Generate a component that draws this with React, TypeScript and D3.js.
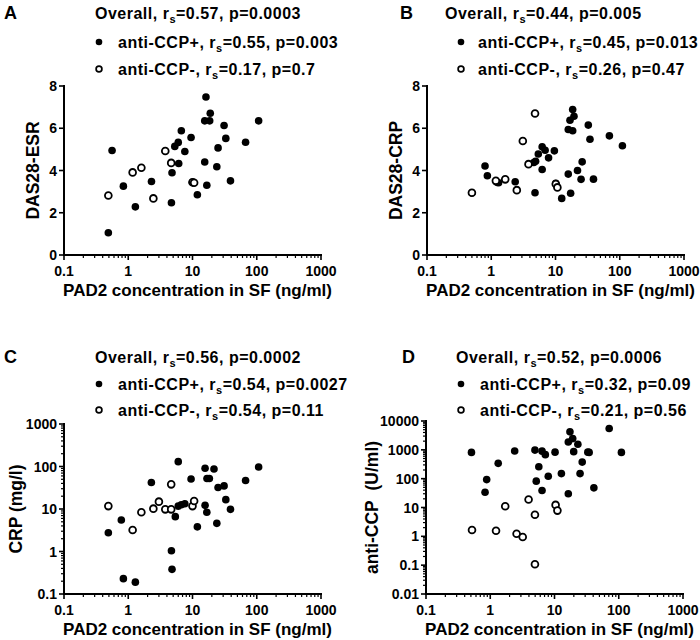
import React from 'react';
import * as d3 from 'd3';

const FONT = "'Liberation Sans', Arial, Helvetica, sans-serif";

// ---------- data ----------
const xTicks = [0.1, 1, 10, 100, 1000];
const dasTicks = [0, 2, 4, 6, 8];
const crpTicks = [0.1, 1, 10, 100, 1000];
const ccpTicks = [0.01, 0.1, 1, 10, 100, 1000, 10000];

// Panel A: PAD2 vs DAS28-ESR
const esrPos: [number, number][] = [
  [16.2, 7.48], [18.9, 6.71], [15.5, 6.35], [18.5, 6.35], [107, 6.35], [31, 6.13],
  [6.7, 5.88], [9.5, 5.56], [33, 5.52], [67, 5.34], [6.0, 5.33], [5.3, 5.14],
  [25, 5.07], [0.56, 4.95], [7.6, 4.9], [15.5, 4.4], [6.1, 4.33], [23.9, 4.18],
  [4.8, 3.89], [2.3, 3.48], [39, 3.51], [10.0, 3.44], [0.84, 3.26], [16.7, 3.3],
  [11.9, 2.85], [1.29, 2.28], [4.7, 2.47], [0.49, 1.05],
];
const esrNeg: [number, number][] = [
  [0.49, 2.82], [1.17, 3.91], [1.6, 4.13], [2.46, 2.68], [3.77, 4.92], [4.66, 4.36],
  [10.0, 3.44], [10.6, 3.42],
];

// Panel B: PAD2 vs DAS28-CRP
const dcrpPos: [number, number][] = [
  [18.5, 6.89], [19.4, 6.57], [16.8, 6.38], [32.4, 6.15], [15.8, 5.94], [18.5, 5.88],
  [69, 5.64], [34.4, 5.48], [110, 5.17], [6.2, 5.12], [6.9, 4.96], [9.6, 4.93],
  [5.4, 4.78], [7.8, 4.6], [4.9, 4.44], [4.6, 4.38], [26, 4.41], [0.8, 4.21],
  [22, 4.0], [6.2, 4.05], [0.87, 3.75], [15.8, 3.83], [25, 3.58], [39, 3.59],
  [2.36, 3.47], [1.23, 3.44], [1.3, 3.42], [10.1, 3.39], [0.5, 2.95], [4.8, 2.95],
  [17.2, 2.92], [12.5, 2.68],
];
const dcrpNeg: [number, number][] = [
  [4.8, 6.7], [3.1, 5.4], [3.8, 4.3], [1.65, 3.58], [1.18, 3.51], [2.5, 3.07],
  [10.1, 3.36], [10.7, 3.2], [0.5, 2.95],
];

// Panel C: PAD2 vs CRP
const crpPos: [number, number][] = [
  [6.0, 130], [15.7, 91], [21.6, 87], [107, 97], [16.8, 52], [18.3, 52], [9.5, 51],
  [2.29, 42], [67, 47], [25, 32], [31, 35], [33, 16.6], [15.7, 12.2], [39, 9.8],
  [16.7, 8.4], [6.0, 11.7], [6.7, 12.6], [7.6, 13.3], [5.4, 6.6], [0.78, 5.5],
  [11.9, 3.8], [23.9, 4.6], [0.49, 2.77], [4.7, 1.04], [4.8, 0.38], [0.84, 0.23],
  [1.29, 0.19],
];
const crpNeg: [number, number][] = [
  [0.49, 11.7], [1.17, 3.2], [1.6, 8.4], [2.46, 10.2], [3.0, 14.9], [3.77, 9.8],
  [4.66, 9.8], [4.66, 38], [10.0, 11.7], [10.6, 15.4],
];

// Panel D: PAD2 vs anti-CCP
const ccpPos: [number, number][] = [
  [71, 5500], [17.4, 4200], [19.2, 2450], [16.4, 1870], [23.1, 1560], [19.9, 865],
  [10.2, 830], [34.6, 815], [33, 830], [110, 815], [6.4, 900], [4.96, 980],
  [7.2, 680], [2.4, 910], [0.51, 815], [1.33, 340], [27, 375], [5.7, 260],
  [25, 150], [12.8, 150], [8.0, 122], [0.88, 93], [5.2, 82], [41, 48],
  [6.4, 39], [0.83, 34], [16.4, 30],
];
const ccpNeg: [number, number][] = [
  [0.52, 1.66], [1.23, 1.57], [2.57, 1.23], [3.2, 0.95], [3.95, 19], [1.71, 11],
  [4.96, 5.6], [10.4, 12.3], [11.1, 7.8], [4.96, 0.108],
];

const panelLetters = ['A', 'B', 'C', 'D'];
const yTitles = ['DAS28-ESR', 'DAS28-CRP', 'CRP (mg/l)', 'anti-CCP\u00a0\u00a0(U/ml)'];
const overallStats = [['0.57', '0.0003'], ['0.44', '0.005'], ['0.56', '0.0002'], ['0.52', '0.0006']];
const posStats = [['0.55', '0.003'], ['0.45', '0.013'], ['0.54', '0.0027'], ['0.32', '0.09']];
const negStats = [['0.17', '0.7'], ['0.26', '0.47'], ['0.54', '0.11'], ['0.21', '0.56']];
const xTitle = 'PAD2 concentration in SF (ng/ml)';

// ---------- layout ----------
type Cfg = {
  idx: number;
  x0: number;
  yBottom: number;
  yTop: number;
  log: boolean;
  yDomain: [number, number];
  yTicks: number[];
  pos: [number, number][];
  neg: [number, number][];
  letterX: number;
  letterY: number;
  overallX: number;
  bulletX: number;
  textX: number;
  lineYs: number[];
  yTitleX: number;
};

const cfgs: Cfg[] = [
  { idx: 0, x0: 64, yBottom: 255, yTop: 86, log: false, yDomain: [0, 8], yTicks: dasTicks, pos: esrPos, neg: esrNeg,
    letterX: 4, letterY: 13, overallX: 95, bulletX: 99, textX: 118, lineYs: [13, 42, 69], yTitleX: 33 },
  { idx: 1, x0: 427, yBottom: 255, yTop: 86, log: false, yDomain: [0, 8], yTicks: dasTicks, pos: dcrpPos, neg: dcrpNeg,
    letterX: 400, letterY: 13, overallX: 445, bulletX: 461, textX: 478, lineYs: [13, 42, 69], yTitleX: 396 },
  { idx: 2, x0: 64, yBottom: 594, yTop: 424, log: true, yDomain: [0.1, 1000], yTicks: crpTicks, pos: crpPos, neg: crpNeg,
    letterX: 4, letterY: 357, overallX: 95, bulletX: 99, textX: 118, lineYs: [357, 384, 410], yTitleX: 16 },
  { idx: 3, x0: 426, yBottom: 594, yTop: 421, log: true, yDomain: [0.01, 10000], yTicks: ccpTicks, pos: ccpPos, neg: ccpNeg,
    letterX: 402, letterY: 357, overallX: 456, bulletX: 461, textX: 480, lineYs: [357, 384, 410], yTitleX: 372 },
];

const XW = 257;

function Stat({ x, y, prefix, r, p }: { x: number; y: number; prefix: string; r: string; p: string }) {
  return (
    <text x={x} y={y} dy="0.35em" fontFamily={FONT} fontWeight="bold" fontSize={16} letterSpacing={0.5} fill="#000">
      {prefix}r<tspan fontSize={11} dy={4}>s</tspan>
      <tspan dy={-4}>{`=${r}, p=${p}`}</tspan>
    </text>
  );
}

function minorTicks(domain: [number, number]): number[] {
  const out: number[] = [];
  let d = domain[0];
  while (d < domain[1] * 0.999) {
    for (let k = 2; k <= 9; k++) out.push(d * k);
    d *= 10;
  }
  return out;
}

function Panel({ c }: { c: Cfg }) {
  const x = d3.scaleLog().domain([0.1, 1000]).range([c.x0, c.x0 + XW]);
  const y = c.log
    ? d3.scaleLog().domain(c.yDomain).range([c.yBottom, c.yTop])
    : d3.scaleLinear().domain(c.yDomain).range([c.yBottom, c.yTop]);
  const xMinor = minorTicks([0.1, 1000]);
  const yMinor = c.log ? minorTicks(c.yDomain) : [];
  const i = c.idx;
  return (
    <g>
      <text x={c.letterX} y={c.letterY} dy="0.36em" fontFamily={FONT} fontWeight="bold" fontSize={18}>
        {panelLetters[i]}
      </text>
      <Stat x={c.overallX} y={c.lineYs[0]} prefix="Overall, " r={overallStats[i][0]} p={overallStats[i][1]} />
      <circle cx={c.bulletX} cy={c.lineYs[1]} r={3.3} fill="#000" />
      <Stat x={c.textX} y={c.lineYs[1]} prefix="anti-CCP+, " r={posStats[i][0]} p={posStats[i][1]} />
      <circle cx={c.bulletX} cy={c.lineYs[2]} r={2.9} fill="#fff" stroke="#000" strokeWidth={1.7} />
      <Stat x={c.textX} y={c.lineYs[2]} prefix="anti-CCP-, " r={negStats[i][0]} p={negStats[i][1]} />

      {/* x axis */}
      <line x1={c.x0} x2={c.x0 + XW + 1} y1={c.yBottom} y2={c.yBottom} stroke="#000" strokeWidth={2} />
      {xMinor.map((v, k) => (
        <line key={'xm' + k} x1={x(v)} x2={x(v)} y1={c.yBottom} y2={c.yBottom + 3} stroke="#000" strokeWidth={1.2} />
      ))}
      {xTicks.map((v) => (
        <g key={'xt' + v}>
          <line x1={x(v)} x2={x(v)} y1={c.yBottom} y2={c.yBottom + 5} stroke="#000" strokeWidth={1.6} />
          <text x={x(v)} y={c.yBottom + 21} textAnchor="middle" fontFamily={FONT} fontWeight="bold" fontSize={14}>
            {String(v)}
          </text>
        </g>
      ))}
      <text x={c.x0 + XW / 2 + 5} y={c.yBottom + 41} textAnchor="middle" fontFamily={FONT} fontWeight="bold" fontSize={17}>
        {xTitle}
      </text>

      {/* y axis */}
      <line x1={c.x0} x2={c.x0} y1={c.yTop - 1} y2={c.yBottom + 1} stroke="#000" strokeWidth={2} />
      {yMinor.map((v, k) => (
        <line key={'ym' + k} x1={c.x0 - 3} x2={c.x0} y1={y(v)} y2={y(v)} stroke="#000" strokeWidth={1.2} />
      ))}
      {c.yTicks.map((v) => (
        <g key={'yt' + v}>
          <line x1={c.x0 - 5} x2={c.x0} y1={y(v)} y2={y(v)} stroke="#000" strokeWidth={1.6} />
          <text x={c.x0 - 7} y={y(v)} dy="0.36em" textAnchor="end" fontFamily={FONT} fontWeight="bold" fontSize={14}>
            {String(v)}
          </text>
        </g>
      ))}
      <text
        transform={`translate(${c.yTitleX},${(c.yTop + c.yBottom) / 2}) rotate(-90)`}
        dy="0.36em"
        textAnchor="middle"
        fontFamily={FONT}
        fontWeight="bold"
        fontSize={17.5}
      >
        {yTitles[i]}
      </text>

      {/* points */}
      {c.pos.map((d, k) => (
        <circle key={'p' + k} cx={x(d[0])} cy={y(d[1])} r={3.8} fill="#000" />
      ))}
      {c.neg.map((d, k) => (
        <circle key={'n' + k} cx={x(d[0])} cy={y(d[1])} r={3.4} fill="#fff" stroke="#000" strokeWidth={1.8} />
      ))}
    </g>
  );
}

export default function App() {
  return (
    <svg
      width={700}
      height={640}
      viewBox="0 0 700 640"
      style={{ position: 'absolute', left: 0, top: 0, background: '#fff' }}
    >
      <rect width={700} height={640} fill="#fff" />
      {cfgs.map((c) => (
        <Panel key={c.idx} c={c} />
      ))}
    </svg>
  );
}
